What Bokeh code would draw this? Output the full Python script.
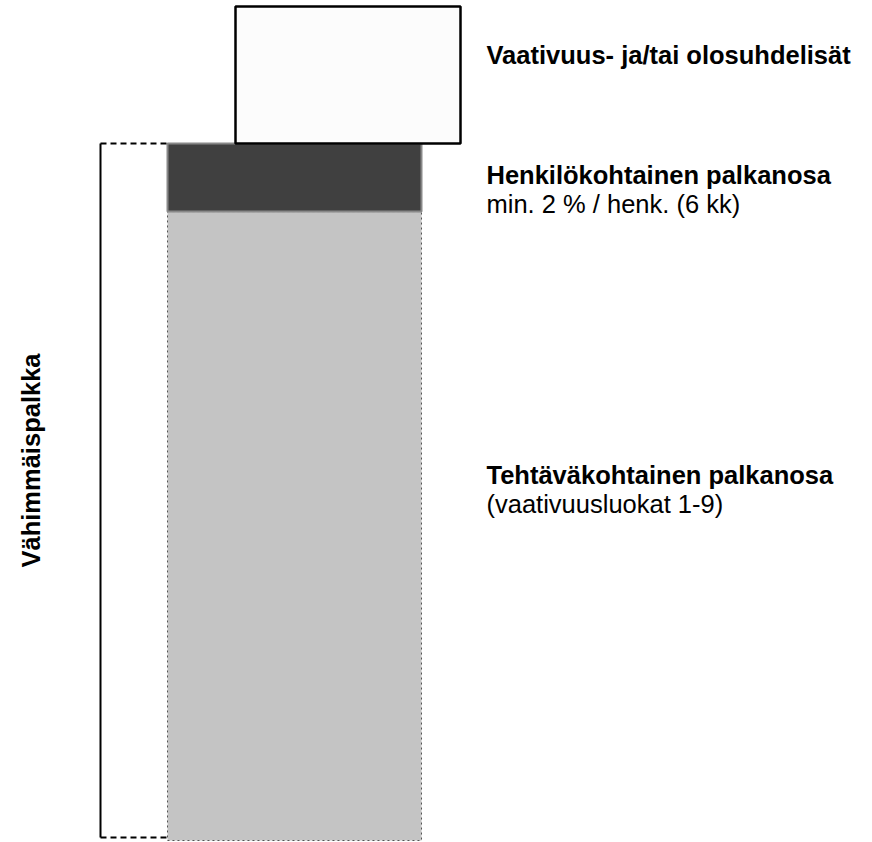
import numpy as np
from bokeh.plotting import figure
from bokeh.models import Range1d
from bokeh.core.properties import value
from bokeh.embed import file_html
from bokeh.resources import INLINE

# ---- data ----
segments = ["Tehtäväkohtainen palkanosa", "Henkilökohtainen palkanosa", "Vaativuus- ja/tai olosuhdelisät"]
seg_values = [100.0, 10.8, 21.8]
sub_labels = ["(vaativuusluokat 1-9)", "min. 2 % / henk. (6 kk)", ""]
bracket_label = "Vähimmäispalkka"

# ---- layout ----
W, H = 872, 842
tops = np.cumsum(seg_values)
bottoms = tops - np.array(seg_values)
ppu = (840 - 6) / tops[-1]          # pixels per unit
y_start = -(H - 840) / ppu
y_end = tops[-1] + 6 / ppu

def ydata(img_y):
    return y_end - img_y / ppu

p = figure(width=W, height=H, output_backend="svg", toolbar_location=None,
           x_range=Range1d(0, W), y_range=Range1d(y_start, y_end),
           x_axis_location=None, y_axis_location=None, min_border=0,
           outline_line_color=None, background_fill_color="white")
p.xgrid.visible = False
p.ygrid.visible = False

FONT = value("Liberation Sans")
FS = "25.5px"

# main bar segments
main_left, main_right = 167, 421
p.quad(left=[main_left], right=[main_right], bottom=[bottoms[0]], top=[tops[0]],
       fill_color="#c4c4c4", line_color="#555555", line_width=1, line_dash="2 3")
p.quad(left=[main_left], right=[main_right], bottom=[bottoms[1]], top=[tops[1]],
       fill_color="#404040", line_color="#888888", line_width=2)
# offset box for extras
p.quad(left=[235], right=[460], bottom=[bottoms[2]], top=[tops[2]],
       fill_color="#fcfcfc", line_color="black", line_width=2.5)

# bracket for minimum wage
bx = 100
low = bottoms[0] + 3 / ppu
p.segment(x0=[bx], x1=[bx], y0=[low], y1=[tops[1]], line_color="black", line_width=2)
p.segment(x0=[bx, bx], x1=[main_left, main_left], y0=[tops[1], low],
          y1=[tops[1], low], line_color="black", line_width=2, line_dash="6 4")

# labels
tx = 486
head_base = [474, 174, 54]
for name, sub, hb in zip(segments, sub_labels, head_base):
    p.text(x=[tx], y=[ydata(hb)], text=[name], text_font=FONT, text_font_style="bold",
           text_font_size=FS, text_baseline="alphabetic", text_align="left", text_color="black")
    if sub:
        p.text(x=[tx], y=[ydata(hb + 29)], text=[sub], text_font=FONT,
               text_font_size=FS, text_baseline="alphabetic", text_align="left", text_color="black")

p.text(x=[30], y=[ydata(460)], text=[bracket_label], text_font=FONT, text_font_style="bold",
       text_font_size=FS, text_baseline="alphabetic", text_align="center", angle=np.pi / 2,
       text_color="black")

open("out.html", "w").write(file_html(p, INLINE))
